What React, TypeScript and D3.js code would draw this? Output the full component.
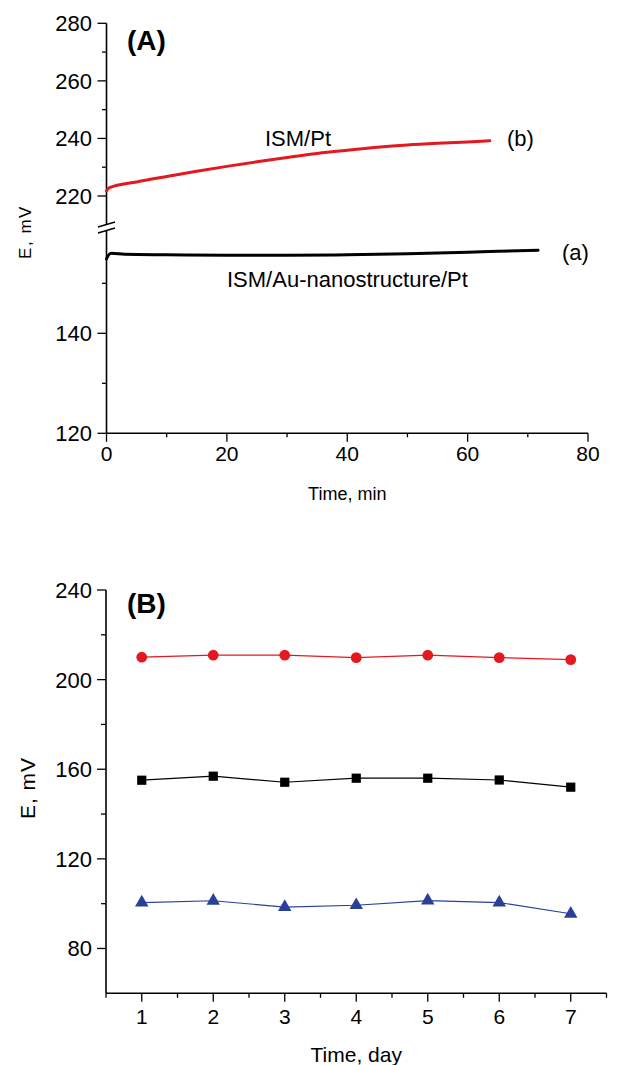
import React from "react";
import * as d3 from "d3";

const FONT = "'Liberation Sans', Arial, Helvetica, sans-serif";

// ---------- Panel A data (time in min, E in mV) ----------
const redTime = [0, 0.5, 5, 10, 15, 20, 25, 30, 35, 40, 45, 50, 55, 60, 63.7];
const redE = [221.8, 222.9, 224.9, 226.8, 228.6, 230.3, 231.9, 233.4, 234.8, 235.9, 236.9, 237.7, 238.3, 238.8, 239.2];
const blackTime = [0, 0.3, 0.8, 3, 10, 20, 30, 40, 50, 60, 65, 71.7];
const blackE = [154.9, 155.6, 156.0, 155.8, 155.7, 155.6, 155.6, 155.7, 155.9, 156.2, 156.4, 156.6];

const aXMajor = [0, 20, 40, 60, 80];
const aXMinor = [10, 30, 50, 70];
const aYUpperMajor = [220, 240, 260, 280];
const aYUpperMinor = [230, 250, 270];
const aYLowerMajor = [120, 140];
const aYLowerMinor = [130, 150];

// ---------- Panel B data (day, E in mV) ----------
const days = [1, 2, 3, 4, 5, 6, 7];
const redB = [210.0, 210.9, 210.9, 209.8, 210.9, 209.8, 208.9];
const blackB = [155.1, 156.9, 154.2, 156.0, 156.0, 155.2, 152.0];
const blueB = [100.5, 101.3, 98.5, 99.3, 101.4, 100.5, 95.5];

const bXMajor = [1, 2, 3, 4, 5, 6, 7];
const bXMinor = [0.5, 1.5, 2.5, 3.5, 4.5, 5.5, 6.5, 7.5];
const bYMajor = [80, 120, 160, 200, 240];
const bYMinor = [100, 140, 180, 220];

const RED = "#e3191f";
const BLUE = "#2a3f97";

export default function App() {
  // Panel A scales
  const axL = 106.5, axR = 588;
  const ax = d3.scaleLinear().domain([0, 80]).range([axL, axR]);
  const ayUp = d3.scaleLinear().domain([210, 280]).range([224.8, 23.3]);
  const ayLo = d3.scaleLinear().domain([120, 160]).range([433.3, 233.3]);
  const aBottom = ayLo(120);
  const breakTop = 224.4, breakBot = 230.4;

  const redLine = d3.line<number>().curve(d3.curveMonotoneX).x((_, i) => ax(redTime[i])).y((d) => ayUp(d))(redE) || "";
  const blackLine = d3.line<number>().curve(d3.curveMonotoneX).x((_, i) => ax(blackTime[i])).y((d) => ayLo(d))(blackE) || "";

  // Panel B scales
  const bxL = 106, bxR = 606.5;
  const bx = d3.scaleLinear().domain([0.5, 7.5]).range([bxL, bxR]);
  const by = d3.scaleLinear().domain([60, 240]).range([993.3, 590]);
  const lineB = (vals: number[]) =>
    d3.line<number>().x((_, i) => bx(days[i])).y((d) => by(d))(vals) || "";
  const tri = d3.symbol().type(d3.symbolTriangle).size(78)() || "";

  const tickStroke = { stroke: "#000", strokeWidth: 1.3 };

  return (
    <svg
      width={632}
      height={1065}
      style={{ position: "absolute", left: 0, top: 0, background: "#fff" }}
      fontFamily={FONT}
    >
      <rect x={0} y={0} width={632} height={1065} fill="#fff" />

      {/* ================= Panel A ================= */}
      <line x1={axL} x2={axL} y1={ayUp(280)} y2={breakTop} stroke="#000" strokeWidth={1.6} />
      <line x1={axL} x2={axL} y1={breakBot} y2={aBottom} stroke="#000" strokeWidth={1.6} />
      <line x1={98} y1={227} x2={115} y2={222} stroke="#000" strokeWidth={1.5} />
      <line x1={98} y1={233} x2={115} y2={228} stroke="#000" strokeWidth={1.5} />
      <line x1={axL} x2={axR} y1={aBottom} y2={aBottom} stroke="#000" strokeWidth={1.6} />

      {aYUpperMajor.map((v) => (
        <g key={"au" + v}>
          <line x1={axL - 9} x2={axL} y1={ayUp(v)} y2={ayUp(v)} {...tickStroke} />
          <text x={92} y={ayUp(v)} dy="0.36em" textAnchor="end" fontSize={22}>{v}</text>
        </g>
      ))}
      {aYUpperMinor.map((v) => (
        <line key={"aum" + v} x1={axL - 4.5} x2={axL} y1={ayUp(v)} y2={ayUp(v)} {...tickStroke} />
      ))}
      {aYLowerMajor.map((v) => (
        <g key={"al" + v}>
          <line x1={axL - 9} x2={axL} y1={ayLo(v)} y2={ayLo(v)} {...tickStroke} />
          <text x={92} y={ayLo(v)} dy="0.36em" textAnchor="end" fontSize={22}>{v}</text>
        </g>
      ))}
      {aYLowerMinor.map((v) => (
        <line key={"alm" + v} x1={axL - 4.5} x2={axL} y1={ayLo(v)} y2={ayLo(v)} {...tickStroke} />
      ))}
      {aXMajor.map((v) => (
        <g key={"ax" + v}>
          <line x1={ax(v)} x2={ax(v)} y1={aBottom} y2={aBottom + 8.5} {...tickStroke} />
          <text x={ax(v)} y={461} textAnchor="middle" fontSize={21}>{v}</text>
        </g>
      ))}
      {aXMinor.map((v) => (
        <line key={"axm" + v} x1={ax(v)} x2={ax(v)} y1={aBottom} y2={aBottom + 4} {...tickStroke} />
      ))}

      <path d={redLine} fill="none" stroke={RED} strokeWidth={3} strokeLinejoin="round" strokeLinecap="round" />
      <path d={blackLine} fill="none" stroke="#000" strokeWidth={3} strokeLinejoin="round" strokeLinecap="round" />

      <text x={127} y={50} fontSize={28} fontWeight="bold">(A)</text>
      <text x={265} y={146} fontSize={22}>ISM/Pt</text>
      <text x={507} y={146} fontSize={22}>(b)</text>
      <text x={562} y={260} fontSize={22}>(a)</text>
      <text x={227} y={287} fontSize={22}>ISM/Au-nanostructure/Pt</text>

      <text transform="translate(31,232) rotate(-90)" textAnchor="middle" fontSize={17} letterSpacing={1.5}>E, mV</text>
      <text x={(axL + axR) / 2} y={500} textAnchor="middle" fontSize={18}>Time, min</text>

      {/* ================= Panel B ================= */}
      <line x1={bxL} x2={bxL} y1={by(240)} y2={by(60)} stroke="#000" strokeWidth={1.6} />
      <line x1={bxL} x2={bxR} y1={by(60)} y2={by(60)} stroke="#000" strokeWidth={1.6} />
      {bYMajor.map((v) => (
        <g key={"by" + v}>
          <line x1={bxL - 9} x2={bxL} y1={by(v)} y2={by(v)} {...tickStroke} />
          <text x={92} y={by(v)} dy="0.36em" textAnchor="end" fontSize={22}>{v}</text>
        </g>
      ))}
      {bYMinor.map((v) => (
        <line key={"bym" + v} x1={bxL - 5} x2={bxL} y1={by(v)} y2={by(v)} {...tickStroke} />
      ))}
      {bXMajor.map((v) => (
        <g key={"bx" + v}>
          <line x1={bx(v)} x2={bx(v)} y1={by(60)} y2={by(60) + 8.5} {...tickStroke} />
          <text x={bx(v)} y={1024} textAnchor="middle" fontSize={21}>{v}</text>
        </g>
      ))}
      {bXMinor.map((v) => (
        <line key={"bxm" + v} x1={bx(v)} x2={bx(v)} y1={by(60)} y2={by(60) + 4.5} {...tickStroke} />
      ))}

      <path d={lineB(redB)} fill="none" stroke={RED} strokeWidth={1.2} />
      <path d={lineB(blackB)} fill="none" stroke="#000" strokeWidth={1.2} />
      <path d={lineB(blueB)} fill="none" stroke={BLUE} strokeWidth={1.2} />
      {redB.map((v, i) => (
        <circle key={"rc" + i} cx={bx(days[i])} cy={by(v)} r={5.4} fill={RED} />
      ))}
      {blackB.map((v, i) => (
        <rect key={"bs" + i} x={bx(days[i]) - 4.6} y={by(v) - 4.6} width={9.2} height={9.2} fill="#000" />
      ))}
      {blueB.map((v, i) => (
        <path key={"bt" + i} d={tri} transform={`translate(${bx(days[i])},${by(v)})`} fill={BLUE} />
      ))}

      <text x={127} y={613} fontSize={28} fontWeight="bold">(B)</text>
      <text transform="translate(35,788) rotate(-90)" textAnchor="middle" fontSize={21} letterSpacing={1}>E, mV</text>
      <text x={(bxL + bxR) / 2} y={1061.5} textAnchor="middle" fontSize={21}>Time, day</text>
    </svg>
  );
}
